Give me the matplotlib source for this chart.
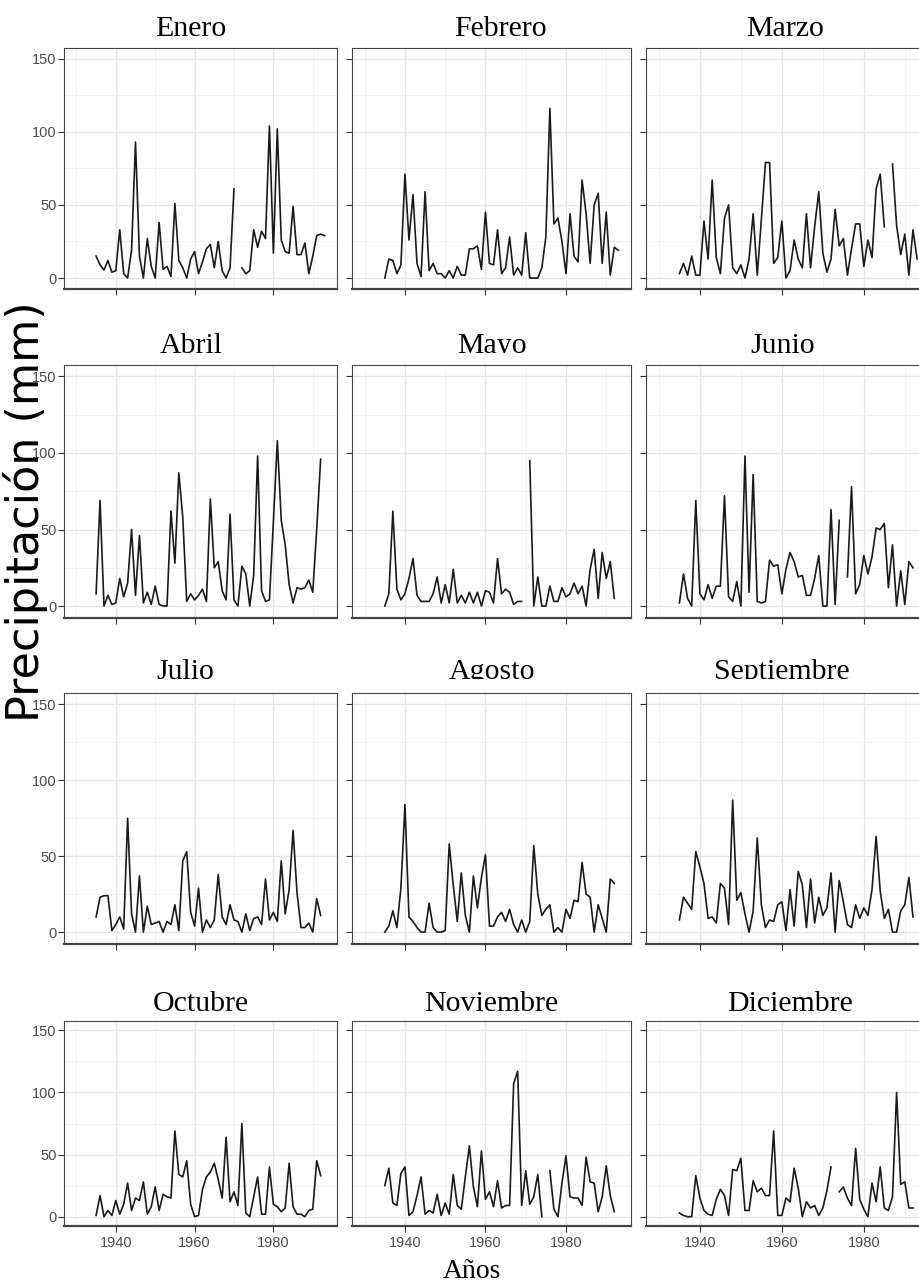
import numpy as np
import matplotlib
matplotlib.use("Agg")
import matplotlib.pyplot as plt
from matplotlib.ticker import FixedLocator
from matplotlib.transforms import Bbox, TransformedBbox

nan = np.nan

# Monthly precipitation (mm), one value per year 1935-1993
years = list(range(1935, 1994))
months = ["Enero", "Febrero", "Marzo", "Abril", "Mayo", "Junio",
          "Julio", "Agosto", "Septiembre", "Octubre", "Noviembre", "Diciembre"]

enero = [15, 9, 5.5, 12, 4, 5, 33, 3, 0, 19, 93, 15, 0, 27, 8, 0, 38, 6, 8, 1,
         51, 12, 7, 0, 13, 18, 3, 11, 20, 23, 7, 25, 5, 0, 7, 61, nan, 7, 3, 5,
         33, 21, 32, 27, 104, 17, 102, 26, 18, 17, 49, 16, 16, 24, 3, 15, 29, 30, 29]
febrero = [0, 13, 12, 3, 9, 71, 26, 57, 10, 1, 59, 5, 10, 3, 3, 0, 5, 0, 8, 2,
           2, 20, 20, 22, 6, 45, 10, 9, 33, 3, 7, 28, 2, 7, 2, 31, 0, 0, 0, 7,
           28, 116, 37, 41, 25, 3, 44, 15, 11, 67, 44, 10, 50, 58, 10, 45, 2, 21, 19]
marzo = [3, 10, 2, 15, 2, 2, 39, 13, 67, 14, 3, 41, 50, 7, 3, 9, 0, 13, 44, 2,
         40, 79, 79, 10, 14, 39, 0, 5, 26, 13, 7, 44, 7, 35, 59, 17, 4, 13, 47, 22,
         27, 2, 20, 37, 37, 8, 26, 14, 61, 71, 35, nan, 78, 36, 16, 30, 2, 33, 13]
abril = [8, 69, 0, 7, 1, 2, 18, 6, 15, 50, 7, 46, 2, 9, 1, 13, 1, 0, 0, 62,
         28, 87, 58, 3, 8, 4, 7, 11, 3, 70, 25, 29, 10, 4, 60, 4, 0, 26, 21, 0,
         20, 98, 10, 3, 4, 55, 108, 56, 40, 14, 2, 12, 11, 12, 17, 9, 50, 96, nan]
mayo = [0, 8, 62, 11, 4, 8, 18, 31, 7, 3, 3, 3, 8, 19, 2, 14, 2, 24, 2, 7,
        2, 9, 2, 9, 0, 10, 9, 2, 31, 8, 11, 9, 1, 3, 3, nan, 95, 0, 19, 0,
        0, 13, 3, 3, 12, 6, 8, 15, 8, 13, 0, 24, 37, 5, 35, 18, 29, 5, nan]
junio = [2, 21, 5, 0, 69, 8, 4, 14, 5, 13, 13, 72, 6, 3, 16, 0, 98, 9, 86, 3,
         2, 3, 30, 26, 27, 8, 24, 35, 29, 19, 20, 7, 7, 18, 33, 0, 0, 63, 1, 56,
         nan, 19, 78, 8, 14, 33, 21, 32, 51, 50, 54, 12, 40, 0, 23, 1, 29, 25, nan]
julio = [10, 23, 24, 24, 1, 5, 10, 2, 75, 12, 0, 37, 0, 17, 5, 6, 7, 0, 7, 5,
         18, 1, 47, 53, 13, 4, 29, 0, 8, 3, 8, 38, 10, 5, 18, 8, 7, 0, 12, 1,
         9, 10, 5, 35, 8, 13, 7, 47, 12, 28, 67, 26, 3, 3, 6, 0, 22, 11, nan]
agosto = [0, 4, 14, 3, 29, 84, 10, 7, 3, 0, 0, 19, 3, 0, 0, 1, 58, 31, 7, 39,
          11, 0, 37, 16, 36, 51, 4, 4, 10, 13, 7, 15, 5, 0, 8, 0, 7, 57, 25, 11,
          15, 18, 0, 3, 0, 15, 9, 21, 20, 46, 25, 23, 0, 18, 9, 0, 35, 32, nan]
septiembre = [8, 23, 19, 15, 53, 43, 32, 9, 10, 6, 32, 29, 5, 87, 21, 26, 12, 0, 14, 62,
              18, 3, 8, 7, 18, 20, 1, 28, 4, 40, 31, 3, 35, 6, 23, 11, 16, 39, 0, 34,
              20, 5, 3, 18, 9, 16, 11, 28, 63, 27, 9, 15, 0, 0, 14, 18, 36, 10, nan]
octubre = [1, 17, 0, 5, 1, 13, 2, 10, 27, 5, 15, 13, 28, 2, 8, 24, 5, 18, 16, 15,
           69, 34, 32, 45, 10, 0, 1, 22, 32, 36, 43, 30, 15, 64, 12, 20, 9, 75, 3, 0,
           16, 32, 2, 2, 40, 10, 8, 4, 7, 43, 8, 2, 2, 0, 5, 6, 45, 33, nan]
noviembre = [25, 39, 11, 9, 35, 40, 1, 4, 17, 32, 2, 5, 3, 18, 1, 11, 2, 34, 9, 6,
             32, 57, 24, 8, 53, 14, 20, 8, 29, 7, 9, 9, 107, 117, 9, 37, 10, 16, 34, 0,
             nan, 37, 6, 0, 27, 49, 16, 15, 15, 9, 48, 28, 27, 4, 16, 41, 17, 4, nan]
diciembre = [3, 1, 0, 0, 33, 15, 5, 2, 1, 14, 22, 17, 1, 38, 37, 47, 5, 5, 29, 20,
             23, 17, 17, 69, 1, 1, 15, 12, 39, 23, 0, 12, 7, 9, 1, 7, 21, 40, nan, 20,
             24, 15, 9, 55, 14, 6, 0, 27, 12, 40, 7, 5, 16, 100, 26, 28, 7, 7, nan]

series = [enero, febrero, marzo, abril, mayo, junio,
          julio, agosto, septiembre, octubre, noviembre, diciembre]

yticks = [0, 50, 100, 150]
xticks = [1940, 1960, 1980]

# layout in pixels of the 920x1286 image
W, H = 920, 1286
cols = [(64, 337), (352, 631), (646, 930)]
rows = [(47.7, 289), (365, 617.5), (693, 943.5), (1021, 1226)]
title_base = [36, 353, 679, 1011]
title_x = [191, 500, 785, 191.5, 492, 783, 185, 492, 782, 200.5, 491, 790]

serif = ["Liberation Serif", "DejaVu Serif"]
narrow = ["Liberation Sans Narrow", "Liberation Sans", "DejaVu Sans"]

fig = plt.figure(figsize=(W / 100, H / 100), dpi=100)
fig.patch.set_facecolor("white")

for k, (name, vals) in enumerate(zip(months, series)):
    r, c = divmod(k, 3)
    x0, x1 = cols[c]
    top, bot = rows[r]
    ax = fig.add_axes([x0 / W, 1 - bot / H, (x1 - x0) / W, (bot - top) / H])
    ax.plot(years, np.array(vals, dtype=float), color="#1a1a1a", lw=1.2)
    ax.set_xlim(1926.85, 1996.15)
    ax.set_ylim(-7.5, 157.5)
    ax.set_xticks(xticks)
    ax.set_yticks(yticks)
    ax.xaxis.set_minor_locator(FixedLocator([1930, 1950, 1970, 1990]))
    ax.yaxis.set_minor_locator(FixedLocator([25, 75, 125]))
    ax.grid(which="major", color="#e6e6e6", lw=1.0)
    ax.grid(which="minor", color="#f0f0f0", lw=0.6)
    ax.set_axisbelow(True)
    ax.tick_params(which="minor", length=0)
    ax.tick_params(which="major", direction="out", length=4, width=0.8,
                   color="#333333", labelcolor="#4d4d4d", labelsize=10.5)
    ax.tick_params(axis="y", pad=1.5)
    ax.tick_params(axis="x", pad=3)
    for lab in ax.get_xticklabels() + ax.get_yticklabels():
        lab.set_family(narrow)
    if c != 0:
        ax.set_yticklabels([])
    if r != 3:
        ax.set_xticklabels([])
    for side, sp in ax.spines.items():
        sp.set_color("#444444")
        sp.set_linewidth(1.6 if side == "bottom" else 0.8)

    # panel title, clipped at its baseline like in the original
    yb = 1 - title_base[r] / H
    t = fig.text(title_x[k] / W, yb, name, ha="center", va="baseline",
                 fontsize=21.5, family=serif, color="black")
    t.set_clip_box(TransformedBbox(Bbox([[x0 / W - 0.05, yb], [x1 / W + 0.05, 1.0]]),
                                   fig.transFigure))
    t.set_clip_on(True)

fig.text(39 / W, 1 - 512 / H, "Precipitación (mm)", rotation=90,
         rotation_mode="anchor", ha="center", va="baseline",
         fontsize=32, family=["DejaVu Sans"], color="black")
fig.text(472 / W, 2 / H, "Años", ha="center", va="bottom",
         fontsize=20, family=serif, color="black")

fig.savefig("out.png", dpi=100)
